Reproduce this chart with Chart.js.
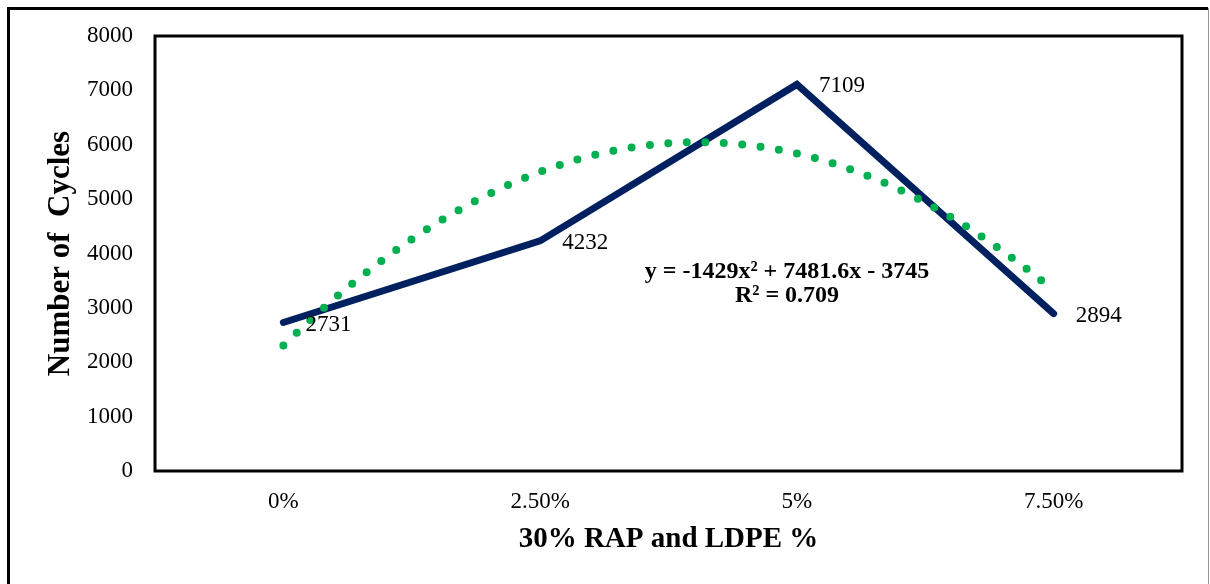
<!DOCTYPE html>
<html>
<head>
<meta charset="utf-8">
<script src="https://cdn.jsdelivr.net/npm/chart.js@4.4.1/dist/chart.umd.min.js"></script>
<style>
  html, body { margin: 0; padding: 0; background: #fff; }
  #wrap { width: 1210px; height: 584px; }
</style>
</head>
<body>
<div id="wrap"><canvas id="cyclesChart"></canvas></div>
<script>
const categories = ["0%", "2.50%", "5%", "7.50%"];
const cycles = [2731, 4232, 7109, 2894];
const yTicks = [0, 1000, 2000, 3000, 4000, 5000, 6000, 7000, 8000];
// trendline as shown on the chart: y = -1429x² + 7481.6x - 3745
const trendCoef = [-1429, 7481.6, -3745];
const trendText = ["y = -1429x² + 7481.6x - 3745", "R² = 0.709"];

const serif = "'Liberation Serif', 'Times New Roman', serif";

const mainPoints = cycles.map((v, i) => ({ x: i + 1, y: v }));
const trendPoints = [];
for (let k = 0; k <= 150; k++) {
    const x = 1 + k * 0.02;
    trendPoints.push({ x: x, y: trendCoef[0] * x * x + trendCoef[1] * x + trendCoef[2] });
}

const framePlugin = {
    id: "frame",
    beforeDraw(chart) {
        const c = chart.ctx;
        c.save();
        c.fillStyle = "#fff";
        c.fillRect(0, 0, chart.width, chart.height);
        c.strokeStyle = "#000";
        c.lineWidth = 3;
        c.beginPath();
        c.moveTo(8.5, 584);
        c.lineTo(8.5, 8.5);
        c.lineTo(1208, 8.5);
        c.stroke();
        c.strokeStyle = "#999";
        c.lineWidth = 1;
        c.beginPath();
        c.moveTo(1208.5, 8);
        c.lineTo(1208.5, 584);
        c.stroke();
        c.restore();
    },
    afterDraw(chart) {
        const a = chart.chartArea;
        const c = chart.ctx;
        c.save();
        c.strokeStyle = "#000";
        c.lineWidth = 3;
        c.strokeRect(a.left, a.top, a.right - a.left, a.bottom - a.top);

        // data labels
        const meta = chart.getDatasetMeta(1);
        c.fillStyle = "#000";
        c.font = "23px " + serif;
        c.textAlign = "left";
        c.textBaseline = "middle";
        meta.data.forEach((pt, i) => {
            c.fillText(String(cycles[i]), pt.x + 22, pt.y + 2);
        });

        // trendline equation
        c.font = "bold 24px " + serif;
        c.textAlign = "center";
        c.fillText(trendText[0], 787, 272);
        c.fillText(trendText[1], 787, 296);
        c.restore();
    }
};

new Chart(document.getElementById("cyclesChart"), {
    type: "line",
    data: {
        datasets: [
            {
                label: "Poly.",
                data: trendPoints,
                borderColor: "#00B050",
                borderWidth: 8,
                borderDash: [0, 18.5],
                borderCapStyle: "round",
                pointRadius: 0,
                tension: 0,
                fill: false
            },
            {
                label: "Cycles",
                data: mainPoints,
                borderColor: "#002060",
                borderWidth: 7,
                borderCapStyle: "round",
                borderJoinStyle: "miter",
                pointRadius: 0,
                tension: 0,
                fill: false
            }
        ]
    },
    options: {
        responsive: true,
        maintainAspectRatio: false,
        animation: false,
        layout: { padding: { top: 36, right: 28, left: 0, bottom: 0 } },
        plugins: {
            legend: { display: false },
            tooltip: { enabled: false }
        },
        scales: {
            x: {
                type: "linear",
                min: 0.5,
                max: 4.5,
                grid: { display: false, drawTicks: false },
                border: { display: false },
                afterBuildTicks(scale) {
                    scale.ticks = categories.map((_, i) => ({ value: i + 1 }));
                },
                afterFit(scale) { scale.height = 113; },
                ticks: {
                    autoSkip: false,
                    maxRotation: 0,
                    padding: 17,
                    color: "#000",
                    font: { family: serif, size: 23 },
                    callback: (v) => categories[v - 1] || ""
                },
                title: {
                    display: true,
                    text: "30% RAP and LDPE %",
                    color: "#000",
                    font: { family: serif, size: 29, weight: "bold" },
                    padding: { top: 0, bottom: 27 }
                }
            },
            y: {
                min: 0,
                max: 8000,
                grid: { display: false, drawTicks: false },
                border: { display: false },
                afterBuildTicks(scale) {
                    scale.ticks = yTicks.map(v => ({ value: v }));
                },
                afterFit(scale) { scale.width = 155; },
                ticks: {
                    padding: 22,
                    color: "#000",
                    font: { family: serif, size: 23 },
                    callback: (v) => String(v)
                },
                title: {
                    display: true,
                    text: "Number of  Cycles",
                    color: "#000",
                    font: { family: serif, size: 31, weight: "bold" },
                    padding: { top: 42, bottom: 0 }
                }
            }
        }
    },
    plugins: [framePlugin]
});
</script>
</body>
</html>
